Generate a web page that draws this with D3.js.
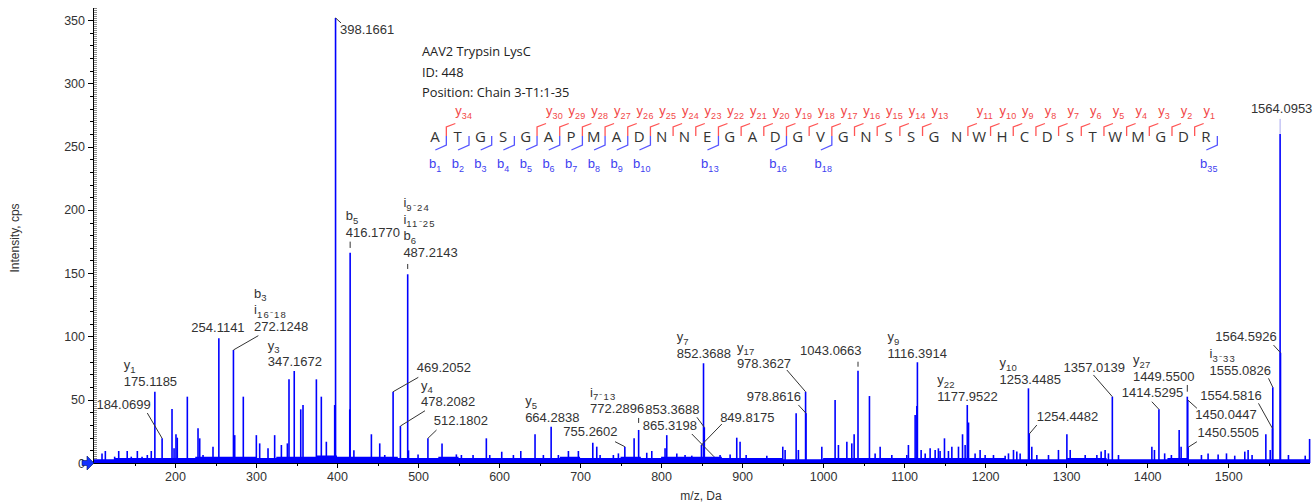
<!DOCTYPE html>
<html>
<head>
<meta charset="utf-8">
<script src="https://cdn.jsdelivr.net/npm/d3@7"></script>
<style>
  body { margin: 0; background: #fff; }
  svg text { font-family: "Liberation Sans", Arial, sans-serif; }
  .axis text { font-size: 12.5px; fill: #333; }
  .axis path, .axis line { stroke: #000; shape-rendering: crispEdges; }
  .axis-title { font-size: 12px; fill: #333; }
  .peak { stroke: #0000ff; stroke-width: 1.6; }
  .peak-label { font-size: 13px; fill: #333; }
  .leader { stroke: #333; stroke-width: 1; }
  .seq-info { font-family: "Open Sans", "Noto Sans", sans-serif !important; font-size: 12.8px; fill: #222; }
  .seq-letter { font-family: "Open Sans", "Noto Sans", sans-serif !important; font-size: 15px; fill: #333; }
  .y-ion { fill: #f24848; font-size: 13px; }
  .b-ion { fill: #4040f0; font-size: 13px; }
</style>
</head>
<body>
<div id="chart"></div>
<script>
//////////////////////////////////////////////////////////////
///////////////////////// Data ///////////////////////////////
//////////////////////////////////////////////////////////////

const peakMz = [109.9, 114.0, 125.5, 130.5, 141.0, 146.0, 153.5, 159.3, 165.8, 170.7,
  175.1185, 184.0699, 196.3, 198.8, 201.2, 202.8, 215.2, 228.4, 230.5, 234.6, 246.9,
  254.1141, 272.1248, 273.7, 284.3, 300.4, 304.5, 314.8, 323.0, 331.3, 338.7, 340.7,
  347.1672, 355.2, 358.0, 374.5, 380.6, 386.8, 397.1, 398.1661, 415.7, 416.1770, 420.8,
  442.4, 452.7, 458.9, 469.2052, 478.2082, 487.2143, 488.2, 500.0, 512.1802, 529.6,
  547.3, 553.5, 567.9, 584.3, 588.5, 603.3, 617.7, 626.8, 644.4, 654.7, 664.2838, 673.2,
  685.6, 697.9, 715.7, 720.6, 724.7, 741.1, 747.3, 755.2602, 766.7, 772.2896, 782.3,
  788.5, 804.9, 807.0, 819.4, 829.6, 837.9, 849.8175, 852.3688, 853.3688, 865.3198,
  872.8, 885.2, 893.4, 897.5, 905.0, 930.5, 950.2, 953.1, 966.7, 969.5, 978.3627,
  978.8616, 998.4, 1014.8, 1018.9, 1029.3, 1035.4, 1038.3, 1043.0663, 1057.2, 1064.2,
  1070.4, 1084.8, 1103.3, 1105.3, 1113.6, 1115.7, 1116.3914, 1121.0, 1126.0, 1132.1,
  1138.3, 1142.3, 1144.4, 1149.8, 1154.7, 1158.9, 1167.1, 1172.1, 1175.3, 1177.9522,
  1179.5, 1187.6, 1193.8, 1200.0, 1210.3, 1224.7, 1228.8, 1235.0, 1239.1, 1243.2,
  1253.4485, 1254.4482, 1257.6, 1263.8, 1278.2, 1290.5, 1300.9, 1305.0, 1323.5, 1337.9,
  1343.2, 1348.1, 1352.2, 1357.0139, 1364.6, 1405.8, 1409.0, 1414.5295, 1421.6, 1429.9,
  1439.5, 1441.9, 1449.5500, 1450.0447, 1450.5505, 1467.0, 1475.2, 1487.6, 1497.9,
  1508.1, 1520.5, 1524.6, 1529.5, 1546.5, 1551.9, 1554.5816, 1555.0826, 1564.0953,
  1564.5926, 1574.4, 1595.1, 1600.5]

const peakIntensity = [7.6, 9.5, 5, 9.5, 9.5, 5, 9.5, 5, 6.3, 9.5,
  56.3, 19.5, 42.7, 11.6, 22.7, 20, 52.4, 27.4, 19.5, 6.3, 12.9,
  98.5, 89.3, 22, 52.4, 22, 15.5, 11.6, 22, 14.2, 15.5, 66.1,
  72.7, 42.4, 45.8, 66.1, 52.4, 16.8, 45.8, 351.6, 42.4, 166.2, 10,
  22.7, 15.5, 6.3, 56.3, 29.2, 149.1, 10, 6.8, 19.5, 15.5,
  6.8, 6.3, 6.3, 19.5, 6.3, 8.9, 6.3, 9.5, 22.7, 6.3, 28.7, 6.3,
  9.5, 9.5, 16, 12.9, 6.3, 6.3, 7.6, 12.9, 19.5, 26.1, 8.1,
  9.5, 11.6, 22, 7.6, 6.3, 5.8, 14.2, 78.8, 28.2, 5.0,
  6.3, 6.8, 20, 16.8, 6.3, 5.8, 12.9, 10.3, 39.3, 10.3, 56.3,
  39.3, 12.9, 49.8, 14.2, 16.8, 15.5, 22.7, 72.9, 52.9, 7.6,
  12.9, 6.3, 6.3, 14.2, 37.9, 45, 79.6, 10.3, 7.6, 11.6,
  10.3, 11.6, 9.5, 19.5, 9.5, 12.9, 12.9, 22.7, 14.2, 45.8,
  32, 7.6, 10.3, 6.3, 6.3, 5.8, 7.6, 10.3, 9, 7.6,
  59.0, 22.9, 12.9, 6.3, 6.3, 10.3, 22.7, 10.3, 6.3, 6.3,
  9, 10.3, 7.6, 52.4, 6.3, 12.9, 10.3, 42.4, 7.6, 6.3,
  26.1, 12.9, 52.4, 49.8, 12.4, 6.3, 7.6, 6.8, 7.6,
  5.8, 9, 10.3, 6.3, 22.7, 10.3, 27.4, 59.8, 260,
  87.1, 6.3, 5.8, 19]

// baseline noise floor [m/z, intensity]
const noiseFloor = [[100, 3], [125, 4], [150, 4], [175, 4], [200, 4], [225, 5], [250, 5],
  [275, 5], [300, 4], [325, 5], [350, 5], [375, 6], [400, 5], [425, 5], [450, 5], [475, 4],
  [500, 4], [525, 5], [550, 4], [575, 4], [600, 4], [625, 4], [650, 4], [675, 5], [700, 4],
  [725, 4], [750, 5], [775, 4], [800, 5], [825, 5], [850, 5], [875, 4], [900, 4], [925, 4],
  [950, 3], [975, 3], [1000, 4], [1025, 4], [1050, 4], [1075, 4], [1100, 4], [1125, 4],
  [1150, 4], [1175, 4], [1200, 4], [1225, 3], [1250, 3], [1275, 3], [1300, 4], [1325, 4],
  [1350, 3], [1375, 3], [1400, 3], [1425, 4], [1450, 3], [1475, 3], [1500, 3], [1525, 3],
  [1550, 3], [1575, 3], [1601, 3]]

// annotated peaks (ion names use "_" for the subscript part)
const labelMz = [175.1185, 184.0699, 254.1141, 272.1248, 347.1672, 398.1661, 416.1770,
  487.2143, 469.2052, 478.2082, 512.1802, 664.2838, 755.2602, 772.2896, 852.3688,
  853.3688, 865.3198, 849.8175, 978.3627, 978.8616, 1043.0663, 1116.3914, 1177.9522,
  1253.4485, 1254.4482, 1357.0139, 1414.5295, 1449.5500, 1450.0447, 1450.5505,
  1554.5816, 1555.0826, 1564.5926, 1564.0953]

const labelLines = [["y_1", "175.1185"], ["184.0699"], ["254.1141"], ["b_3", "i_16-18", "272.1248"],
  ["y_3", "347.1672"], ["398.1661"], ["b_5", "416.1770"], ["i_9-24", "i_11-25", "b_6", "487.2143"],
  ["469.2052"], ["y_4", "478.2082"], ["512.1802"], ["y_5", "664.2838"], ["755.2602"],
  ["i_7-13", "772.2896"], ["y_7", "852.3688"], ["853.3688"], ["865.3198"], ["849.8175"],
  ["y_17", "978.3627"], ["978.8616"], ["1043.0663"], ["y_9", "1116.3914"], ["y_22", "1177.9522"],
  ["y_10", "1253.4485"], ["1254.4482"], ["1357.0139"], ["1414.5295"], ["y_27", "1449.5500"],
  ["1450.0447"], ["1450.5505"], ["1554.5816"], ["i_3-33", "1555.0826"], ["1564.5926"], ["1564.0953"]]

// label placement relative to the peak top (pixels)
const labelPlacement = [
  {dx: -31, dy: -6}, {dx: -65.7, dy: -29.3, leader: [-14.8, -25.3]}, {dx: -27.5, dy: -6.3},
  {dx: 20.6, dy: -19, leader: [24.9, -14.3]}, {dx: -26.5, dy: -4.7}, {dx: 4.5, dy: 16, leader: [5.5, 5]},
  {dx: -4.4, dy: -15.7, tick: [-11, -4.7]}, {dx: -4.3, dy: -17.3, tick: [-10.3, -5.3]},
  {dx: 23.6, dy: -19.7, leader: [25.2, -14.4]}, {dx: 20.6, dy: -20, leader: [24.6, -15.3]},
  {dx: 5.9, dy: -13.8, leader: [8.6, -8.3]}, {dx: -26, dy: -4.7},
  {dx: -61.5, dy: -10.7, leader: [-9.8, -5]}, {dx: -48.6, dy: -16.5, tick: [-12, -7]},
  {dx: -26.7, dy: -5.3}, {dx: -59.1, dy: -13.8, leader: [-7.4, -10]},
  {dx: -71.2, dy: -26.7, leader: [-22.2, -22.7]}, {dx: 18.7, dy: -23, leader: [20.4, -21]},
  {dx: -68.7, dy: -23.7, leader: [-18.7, -21.7]}, {dx: -59.2, dy: -12.3, leader: [-7.6, -8.3]},
  {dx: -57.9, dy: -15.7, tick: [-9, -4]}, {dx: -29.9, dy: -4.3}, {dx: -30.1, dy: -4.5},
  {dx: -29, dy: -4.8}, {dx: 7.6, dy: -13, leader: [7.6, -9]},
  {dx: -48.9, dy: -24.7, leader: [-18.9, -21.7]}, {dx: -37.1, dy: -12.3, leader: [-7.1, -7.6]},
  {dx: -54.4, dy: -15.7, tick: [-11.7, -5]}, {dx: 7.5, dy: 19.5, leader: [9.2, 8.3]},
  {dx: 9.4, dy: -10.3, leader: [8.8, -5.6]}, {dx: -72.2, dy: -28.8, leader: [-13.9, -25]},
  {dx: -63.3, dy: -12.8, leader: [-4.3, -9]}, {dx: -65.3, dy: -11.7, leader: [-7, -7.7]},
  {dx: -29.2, dy: -21, tick: [-15, 0], light: true}]

// peptide
const infoLines = ["AAV2 Trypsin LysC", "ID: 448", "Position: Chain 3-T1:1-35"]
const sequence = "ATGSGAPMADNNEGADGVGNSSGNWHCDSTWMGDR".split("")
const yIons = [34, 30, 29, 28, 27, 26, 25, 24, 23, 22, 21, 20, 19, 18, 17, 16, 15, 14, 13,
  11, 10, 9, 8, 7, 6, 5, 4, 3, 2, 1]
const bIons = [1, 2, 3, 4, 5, 6, 7, 8, 9, 10, 13, 16, 18, 35]

const xTicks = [200, 300, 400, 500, 600, 700, 800, 900, 1000, 1100, 1200, 1300, 1400, 1500]
const xMinorTicks = [150, 250, 350, 450, 550, 650, 750, 850, 950, 1050, 1150, 1250, 1350, 1450, 1550]
const yTicks = [0, 50, 100, 150, 200, 250, 300, 350]
const yMinorTicks = [10, 20, 30, 40, 60, 70, 80, 90, 110, 120, 130, 140, 160, 170, 180, 190,
  210, 220, 230, 240, 260, 270, 280, 290, 310, 320, 330, 340]

//////////////////////////////////////////////////////////////
//////////////////////// Create SVG //////////////////////////
//////////////////////////////////////////////////////////////

const width = 1313
const height = 504
const lineGap = 16.5

const svg = d3.select("#chart").append("svg")
    .attr("width", width)
    .attr("height", height)

const x = d3.scaleLinear().domain([100, 1601]).range([94, 1310])
const y = d3.scaleLinear().domain([0, 350]).range([463, 20])

//////////////////////////////////////////////////////////////
/////////////////////////// Axes /////////////////////////////
//////////////////////////////////////////////////////////////

// dotted band next to the y axis
svg.append("line")
    .attr("x1", 95.5).attr("x2", 95.5)
    .attr("y1", 8).attr("y2", y(0))
    .attr("stroke", "#8a8a8a")
    .attr("stroke-width", 3)
    .attr("stroke-dasharray", "1,1")

const xAxis = svg.append("g").attr("class", "axis")
    .attr("transform", "translate(0," + y(0) + ")")
    .call(d3.axisBottom(x).tickValues(xTicks).tickFormat(d3.format("d"))
        .tickSizeOuter(0).tickSize(5).tickPadding(4))
xAxis.select(".domain").attr("d", "M93,0.5H1310")

svg.append("g").attr("class", "axis")
    .attr("transform", "translate(0," + y(0) + ")")
    .call(d3.axisBottom(x).tickValues(xMinorTicks).tickSize(3).tickFormat(""))
    .select(".domain").remove()

const yAxis = svg.append("g").attr("class", "axis")
    .attr("transform", "translate(93,0)")
    .call(d3.axisLeft(y).tickValues(yTicks).tickSizeOuter(0).tickSize(5).tickPadding(3))
yAxis.select(".domain").attr("d", "M0.5,8V" + y(0))

svg.append("g").attr("class", "axis")
    .attr("transform", "translate(93,0)")
    .call(d3.axisLeft(y).tickValues(yMinorTicks).tickSize(3).tickFormat(""))
    .select(".domain").remove()

svg.append("text")
    .attr("class", "axis-title")
    .attr("text-anchor", "middle")
    .attr("x", 701).attr("y", 500)
    .text("m/z, Da")

svg.append("text")
    .attr("class", "axis-title")
    .attr("text-anchor", "middle")
    .attr("transform", "translate(19,238) rotate(-90)")
    .text("Intensity, cps")

// origin arrow
svg.append("path")
    .attr("d", "M82,460.5 H87 V456 L94,463 L87,470 V465.5 H82 Z")
    .attr("fill", "#1030ff")
    .attr("stroke", "#001060")
    .attr("stroke-width", 0.6)

//////////////////////////////////////////////////////////////
////////////////////////// Spectrum //////////////////////////
//////////////////////////////////////////////////////////////

svg.append("path")
    .datum(noiseFloor)
    .attr("fill", "#0000ff")
    .attr("d", d3.area()
        .curve(d3.curveStepAfter)
        .x(d => x(d[0]))
        .y0(y(0))
        .y1(d => y(d[1])))

svg.append("g").attr("class", "peak-group")
    .selectAll(".peak")
    .data(peakMz)
    .join("line")
    .attr("class", "peak")
    .attr("x1", d => x(d))
    .attr("x2", d => x(d))
    .attr("y1", y(0))
    .attr("y2", (d, i) => y(peakIntensity[i]))

//////////////////////////////////////////////////////////////
/////////////////////// Peak labels //////////////////////////
//////////////////////////////////////////////////////////////

const labels = svg.append("g").attr("class", "label-group")

labelMz.forEach((mz, i) => {
    const px = x(mz)
    const py = y(peakIntensity[peakMz.indexOf(mz)])
    const p = labelPlacement[i]
    const lines = labelLines[i]

    lines.forEach((s, k) => {
        const t = labels.append("text")
            .attr("class", "peak-label")
            .attr("x", px + p.dx)
            .attr("y", py + p.dy - (lines.length - 1 - k) * lineGap)
        ionText(t, s, 9.5)
    })

    if (p.leader) {
        labels.append("line").attr("class", "leader")
            .attr("x1", px).attr("y1", py)
            .attr("x2", px + p.leader[0]).attr("y2", py + p.leader[1])
    }
    if (p.tick) {
        labels.append("line").attr("class", "leader")
            .attr("x1", px).attr("x2", px)
            .attr("y1", py + p.tick[0]).attr("y2", py + p.tick[1])
            .style("stroke", p.light ? "#a8a8f0" : null)
    }
})

//////////////////////////////////////////////////////////////
/////////////////////// Sequence panel ///////////////////////
//////////////////////////////////////////////////////////////

const seq = svg.append("g").attr("class", "sequence-group")

seq.selectAll(".seq-info")
    .data(infoLines)
    .join("text")
    .attr("class", "seq-info")
    .attr("x", 422)
    .attr("y", (d, i) => 56 + i * 20.5)
    .text(d => d)

const seqX = d3.scaleLinear().domain([1, sequence.length]).range([435, 1206])
const step = seqX(2) - seqX(1)
const midY = 136

seq.selectAll(".seq-letter")
    .data(sequence)
    .join("text")
    .attr("class", "seq-letter")
    .attr("text-anchor", "middle")
    .attr("x", (d, i) => seqX(i + 1))
    .attr("y", 142)
    .text(d => d)

yIons.forEach(n => {
    const k = sequence.length - n
    const cx = seqX(k) + step / 2
    seq.append("path")
        .attr("d", "M" + [cx, midY] + "V" + (midY - 9) + "L" + [cx + 9, midY - 12.5])
        .attr("fill", "none")
        .attr("stroke", "#ff5555")
        .attr("stroke-width", 1.3)
    const t = seq.append("text").attr("class", "y-ion")
        .attr("x", seqX(k + 1) - 2.5)
        .attr("y", 115)
    ionText(t, "y_" + n, 9)
})

bIons.forEach(k => {
    const cx = seqX(k) + step / 2
    seq.append("path")
        .attr("d", "M" + [cx, midY] + "V" + (midY + 9) + "L" + [cx - 11, midY + 14])
        .attr("fill", "none")
        .attr("stroke", "#5555ff")
        .attr("stroke-width", 1.3)
    const t = seq.append("text").attr("class", "b-ion")
        .attr("x", seqX(k) - 6)
        .attr("y", 168)
    ionText(t, "b_" + k, 9)
})

//////////////////////////////////////////////////////////////
/////////////////////// Helper functions /////////////////////
//////////////////////////////////////////////////////////////

function ionText(t, s, subSize) {
    const parts = s.split("_")
    t.append("tspan").text(parts[0])
    if (parts.length > 1) {
        t.append("tspan")
            .attr("dy", 3.5)
            .attr("font-size", subSize)
            .attr("letter-spacing", parts[1].indexOf("-") >= 0 ? 1.2 : 0.3)
            .text(parts[1].replace("-", "\u207B"))
    }
}//function ionText
</script>
</body>
</html>
